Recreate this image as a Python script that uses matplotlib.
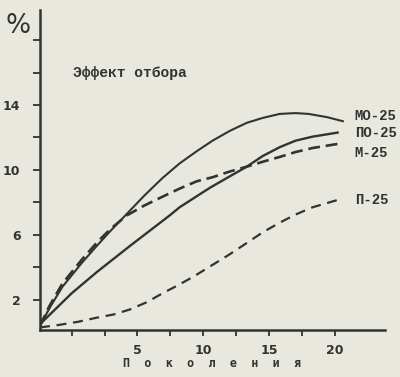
import matplotlib
matplotlib.use("Agg")
import matplotlib.pyplot as plt

# значения (поколения, % эффекта отбора)
mo_x = [-2.4, -1.6, -0.7, 0.8, 2.0, 2.9, 4.2, 5.5, 6.9, 8.2, 9.5, 10.7, 12.0, 13.3, 14.5, 15.8, 17.0, 18.0, 19.4, 20.6]
mo_y = [0.4, 1.6, 2.8, 4.3, 5.4, 6.2, 7.3, 8.4, 9.5, 10.4, 11.15, 11.8, 12.4, 12.9, 13.2, 13.45, 13.5, 13.45, 13.25, 13.0]

po_x = [-2.4, 0.0, 1.9, 4.4, 7.45, 8.2, 10.5, 12.0, 13.3, 14.5, 15.8, 17.0, 18.3, 20.2]
po_y = [0.5, 2.4, 3.7, 5.3, 7.2, 7.7, 8.9, 9.6, 10.2, 10.85, 11.4, 11.8, 12.05, 12.3]

m_x = [-2.4, -1.7, -0.7, 0.8, 2.0, 3.0, 4.2, 5.5, 6.9, 8.2, 9.5, 10.7, 12.0, 13.3, 14.5, 15.8, 17.0, 18.3, 20.2]
m_y = [0.4, 1.6, 3.0, 4.5, 5.6, 6.4, 7.2, 7.8, 8.35, 8.85, 9.3, 9.55, 9.9, 10.2, 10.5, 10.8, 11.1, 11.35, 11.6]

p_x = [-2.4, -1.0, 0.5, 1.9, 3.2, 4.4, 5.7, 6.9, 8.2, 9.4, 10.5, 11.9, 13.3, 14.5, 15.8, 17.0, 18.3, 20.2]
p_y = [0.3, 0.45, 0.65, 0.9, 1.1, 1.4, 1.85, 2.4, 2.95, 3.5, 4.05, 4.75, 5.5, 6.15, 6.75, 7.25, 7.7, 8.15]

labels = ["МО-25", "ПО-25", "М-25", "П-25"]
label_y = [13.3, 12.28, 11.05, 8.15]

x_ticks = [0, 2.5, 5, 7.5, 10, 12.5, 15, 17.5, 20]
x_labels = ["", "", "5", "", "10", "", "15", "", "20"]
y_ticks = [2, 4, 6, 8, 10, 12, 14, 16, 18]
y_labels = ["2", "", "6", "", "10", "", "14", "", ""]

bg = "#e9e8de"
ink = "#333333"

fig = plt.figure(figsize=(4.0, 3.77), dpi=100, facecolor=bg)
ax = fig.add_axes([0.1, 0.125, 0.8625, 0.8485])
ax.set_facecolor(bg)

ax.plot(mo_x, mo_y, color=ink, lw=1.5)
ax.plot(po_x, po_y, color=ink, lw=1.7)
ax.plot(m_x, m_y, color=ink, lw=1.9, dashes=(4.5, 2.2))
ax.plot(p_x, p_y, color=ink, lw=1.6, dashes=(4.5, 3.0))

for lab, yy in zip(labels, label_y):
    ax.text(21.5, yy, lab, fontsize=10, family="Liberation Mono", fontweight="bold",
            color=ink, ha="left", va="center")

ax.text(0.1, 15.95, "Эффект отбора", fontsize=10.5, family="Liberation Mono",
        fontweight="bold", color=ink, ha="left", va="center")

ax.set_xlim(-2.4, 23.8)
ax.set_ylim(0.15, 19.85)

for s in ["top", "right"]:
    ax.spines[s].set_visible(False)
for s in ["left", "bottom"]:
    ax.spines[s].set_linewidth(1.8)
    ax.spines[s].set_color(ink)

ax.set_xticks(x_ticks)
ax.set_xticklabels(x_labels, fontsize=9, fontweight="bold", color=ink)
ax.set_yticks(y_ticks)
ax.set_yticklabels(y_labels, fontsize=9, fontweight="bold", color=ink)
ax.tick_params(axis="x", direction="out", length=4.5, width=1.3, color=ink, pad=6)
ax.tick_params(axis="y", direction="out", length=5, width=1.3, color=ink, pad=9)

ax.set_xlabel("П  о  к  о  л  е  н  и  я", fontsize=8.5, family="DejaVu Sans Mono",
              fontweight="bold", color=ink, labelpad=0)

fig.text(0.044, 0.93, "%", fontsize=19, color=ink, ha="center", va="center")

fig.savefig("out.png", dpi=100, facecolor=bg)
